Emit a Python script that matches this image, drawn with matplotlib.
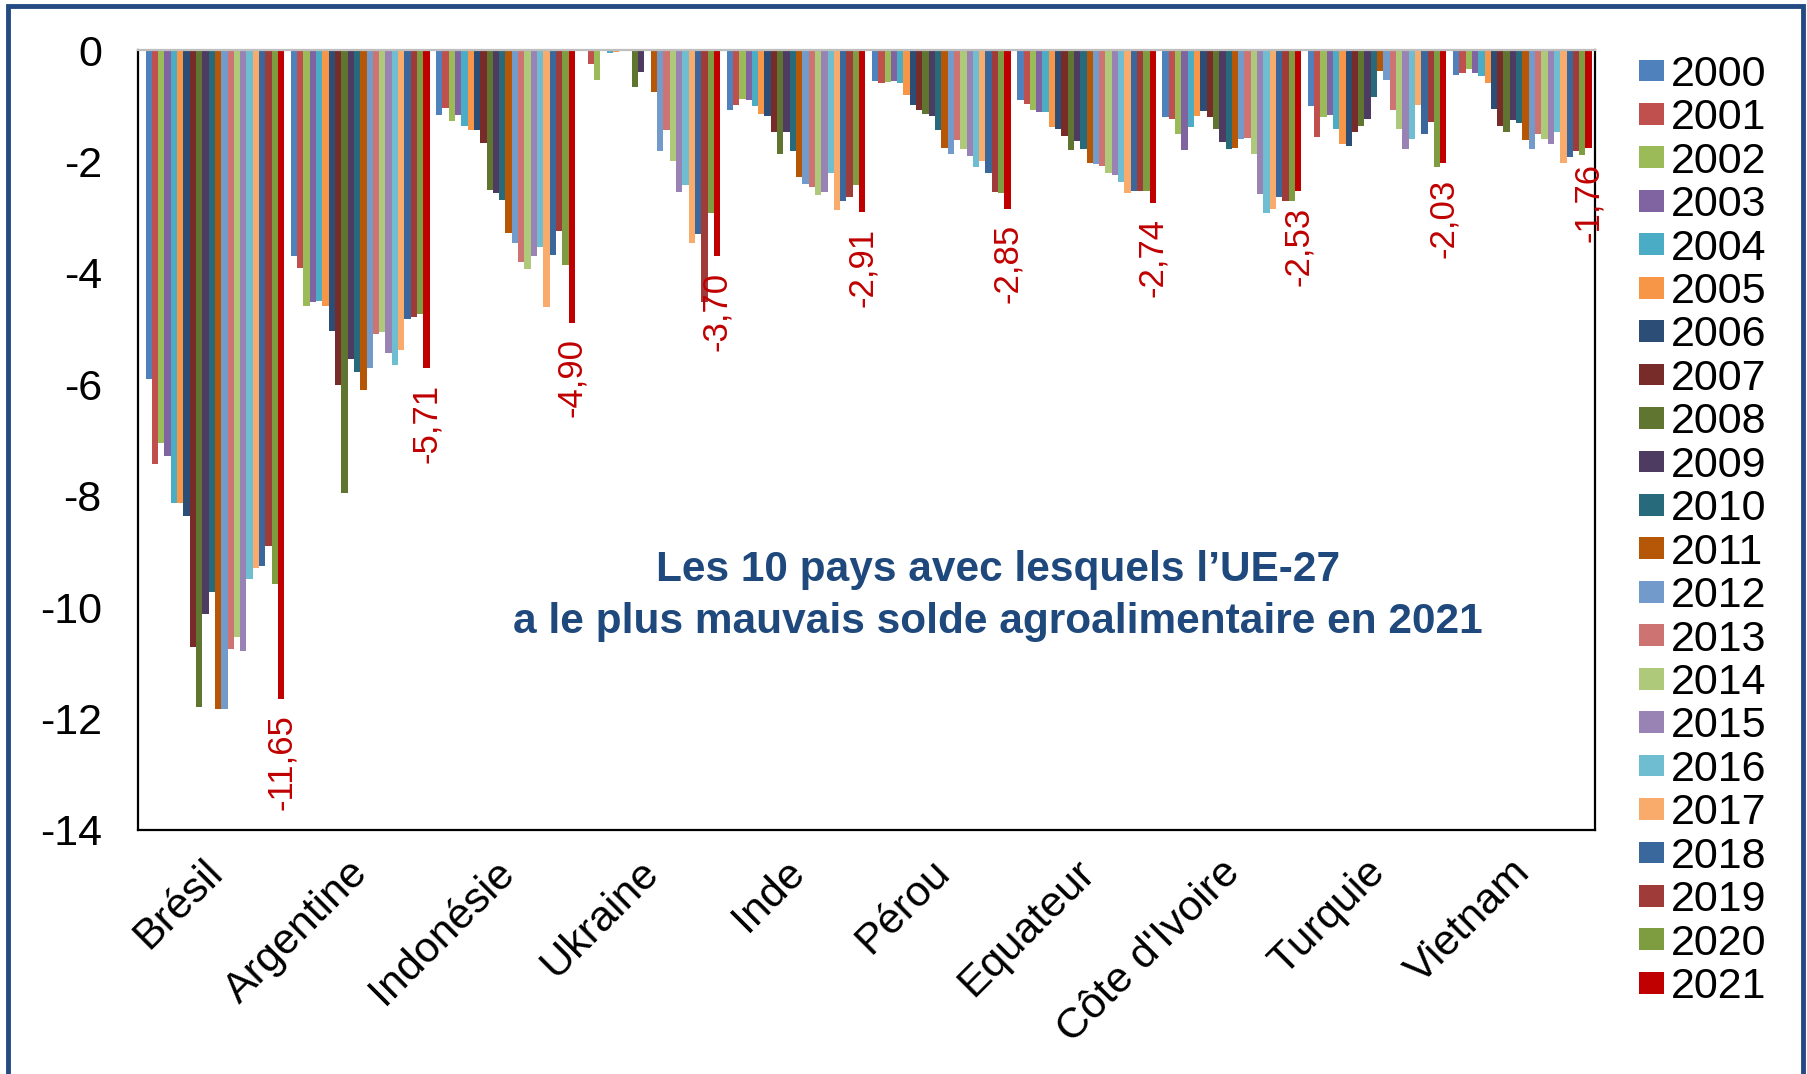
import numpy as np
import matplotlib
matplotlib.use("Agg")
import matplotlib.pyplot as plt
import matplotlib.transforms as mtransforms
from matplotlib.patches import Rectangle

plt.rcParams["font.family"] = ["Liberation Sans", "DejaVu Sans"]
plt.rcParams["axes.unicode_minus"] = False

countries = ["Brésil", "Argentine", "Indonésie", "Ukraine", "Inde",
             "Pérou", "Equateur", "Côte d'Ivoire", "Turquie", "Vietnam"]
years = list(range(2000, 2022))

# solde agroalimentaire UE-27 (Mds EUR), une liste par pays, 2000 -> 2021
bresil = [-5.90, -7.43, -7.05, -7.28, -8.13, -8.13, -8.36, -10.72, -11.79, -10.12, -9.73,
          -11.82, -11.82, -10.75, -10.53, -10.78, -9.50, -9.30, -9.27, -8.91, -9.59, -11.65]
argentine = [-3.70, -3.91, -4.60, -4.53, -4.51, -4.59, -5.05, -6.02, -7.95, -5.55, -5.78,
             -6.11, -5.71, -5.10, -5.07, -5.44, -5.65, -5.39, -4.83, -4.80, -4.73, -5.71]
indonesie = [-1.17, -1.04, -1.27, -1.17, -1.37, -1.44, -1.43, -1.66, -2.51, -2.56, -2.69,
             -3.29, -3.47, -3.81, -3.93, -3.70, -3.53, -4.62, -3.68, -3.24, -3.85, -4.90]
ukraine = [-0.02, -0.25, -0.54, -0.02, -0.06, -0.03, -0.01, -0.01, -0.66, -0.40, -0.01,
           -0.75, -1.81, -1.43, -1.99, -2.54, -2.43, -3.47, -3.31, -4.53, -2.92, -3.70]
inde = [-1.08, -0.98, -0.87, -0.90, -1.01, -1.14, -1.18, -1.48, -1.87, -1.48, -1.81,
        -2.28, -2.40, -2.46, -2.60, -2.54, -2.20, -2.88, -2.71, -2.64, -2.43, -2.91]
perou = [-0.56, -0.60, -0.57, -0.56, -0.60, -0.80, -0.99, -1.08, -1.14, -1.18, -1.44,
         -1.75, -1.87, -1.62, -1.78, -1.91, -2.10, -1.99, -2.21, -2.54, -2.56, -2.85]
equateur = [-0.90, -0.97, -1.08, -1.12, -1.12, -1.38, -1.42, -1.55, -1.80, -1.64, -1.77,
            -2.02, -2.04, -2.08, -2.20, -2.24, -2.37, -2.56, -2.53, -2.53, -2.53, -2.74]
cote_ivoire = [-1.20, -1.23, -1.51, -1.80, -1.38, -1.18, -1.10, -1.20, -1.41, -1.65, -1.78,
               -1.75, -1.59, -1.57, -1.87, -2.58, -2.92, -2.86, -2.63, -2.71, -2.71, -2.53]
turquie = [-1.01, -1.56, -1.20, -1.16, -1.42, -1.68, -1.72, -1.48, -1.37, -1.23, -0.84,
           -0.37, -0.54, -1.08, -1.42, -1.78, -1.60, -0.99, -1.50, -1.29, -2.10, -2.03]
vietnam = [-0.44, -0.41, -0.34, -0.41, -0.46, -0.60, -1.05, -1.37, -1.48, -1.26, -1.31,
           -1.62, -1.78, -1.51, -1.59, -1.68, -1.48, -2.02, -1.92, -1.81, -1.89, -1.76]

yticks = [0, -2, -4, -6, -8, -10, -12, -14]

colors = ["#4F81BD", "#C0504D", "#9BBB59", "#8064A2", "#4BACC6", "#F79646",
          "#2C4D75", "#772C2A", "#5F7530", "#4D3B62", "#276A7C", "#B65708",
          "#729ACA", "#CD7371", "#AFC97A", "#9983B5", "#6FBDD1", "#F9AB6B",
          "#3A679C", "#9F3B38", "#7E9C40", "#C00000"]

data = np.array([bresil, argentine, indonesie, ukraine, inde,
                 perou, equateur, cote_ivoire, turquie, vietnam])

fig = plt.figure(figsize=(18.08, 10.74), dpi=100)
ax = fig.add_axes([0.0763, 0.2272, 0.8059, 0.7262])

n = len(years)
group = 0.955
w = group / n
x = np.arange(len(countries))

for j, yr in enumerate(years):
    pos = x - group / 2 + w * (j + 0.5)
    ax.bar(pos, data[:, j], width=w, color=colors[j], label=str(yr), linewidth=0)

# etiquettes 2021
pos21 = x - group / 2 + w * (n - 0.5)
for px, v in zip(pos21, data[:, -1]):
    ax.annotate(f"{v:.2f}".replace(".", ","), (px, v), xytext=(0, -11),
                textcoords="offset points", rotation=90, ha="center", va="top",
                fontsize=25, color="#C00000")

ax.set_xlim(-0.53, 9.5)
ax.set_ylim(-14, 0)
ax.set_yticks(yticks)
ax.set_yticklabels([str(t) for t in yticks])
ax.tick_params(axis="y", length=0, pad=26, labelsize=31)
ax.set_xticks(x)
ax.set_xticklabels(countries, rotation=45, ha="right", va="top",
                   rotation_mode="anchor", fontsize=31)
ax.tick_params(axis="x", length=0, pad=16)
shift = mtransforms.ScaledTranslation(-0.12, 0, fig.dpi_scale_trans)
for lab in ax.get_xticklabels():
    lab.set_transform(lab.get_transform() + shift)

for s in ["left", "right", "bottom"]:
    ax.spines[s].set_color("black")
    ax.spines[s].set_linewidth(1.6)
ax.spines["top"].set_color("#BFBFBF")
ax.spines["top"].set_linewidth(1.6)

ax.text(0.59, 0.300, "Les 10 pays avec lesquels l\u2019UE-27\na le plus mauvais solde agroalimentaire en 2021",
        transform=ax.transAxes, ha="center", va="center", fontsize=30.5,
        fontweight="bold", color="#1F497D", linespacing=1.38)

fig.legend(loc="upper left", bbox_to_anchor=(0.897, 0.965), frameon=False,
           fontsize=31, handlelength=0.59, handleheight=0.4,
           handletextpad=0.15, labelspacing=0.08, borderaxespad=0)

fig.patches.append(Rectangle((8 / 1808, -0.05), (1803 - 8) / 1808, 1.05 - 6 / 1074,
                             transform=fig.transFigure, fill=False,
                             edgecolor="#244A84", linewidth=3.5))

fig.savefig("out.png", dpi=100)
